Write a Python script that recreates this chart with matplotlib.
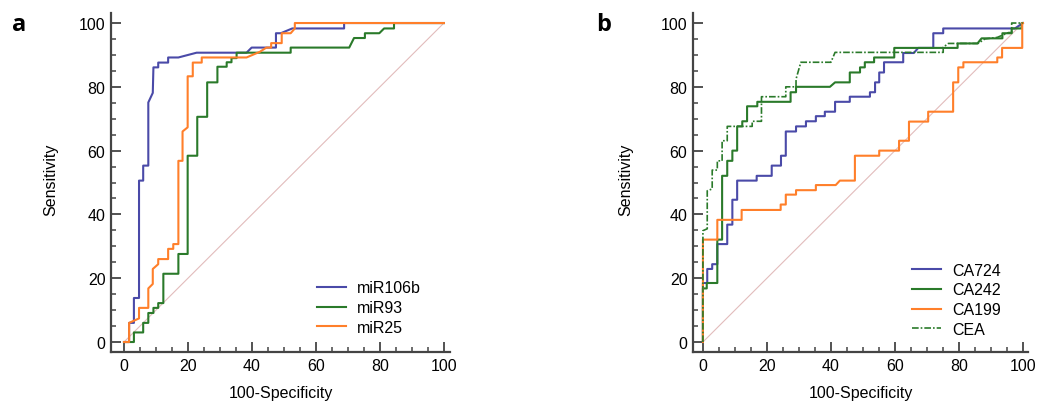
import numpy as np
import matplotlib
matplotlib.use("Agg")
import matplotlib.pyplot as plt
from matplotlib.ticker import MultipleLocator

plt.rcParams['font.family'] = ['Liberation Sans', 'DejaVu Sans']

# ---- panel a: miRNA ROC curves (100-Specificity, Sensitivity) ----
mir106b_x = [0, 1.6, 1.6, 3.1, 3.1, 4.7, 4.7, 6.0, 6.0, 7.6, 7.6, 9.0, 9.2, 10.7, 10.7, 13.8, 13.8,
             17.0, 22.7, 38.3, 39.9, 47.5, 47.5, 49.0, 52.6, 68.8, 68.8, 100]
mir106b_y = [0, 0, 6.0, 6.0, 13.8, 13.8, 50.6, 50.6, 55.3, 55.3, 75.1, 78.1, 86.1, 86.1, 87.6, 87.6, 89.2,
             89.2, 90.7, 90.7, 92.3, 92.3, 96.8, 96.8, 98.3, 98.3, 100, 100]

mir93_x = [0, 3.1, 3.1, 6.0, 6.0, 7.6, 7.6, 9.2, 9.2, 10.7, 10.7, 12.3, 12.3, 17.0, 17.0, 19.9, 19.9,
           22.9, 22.9, 26.0, 26.0, 29.2, 29.2, 32.1, 32.1, 33.6, 33.6, 35.2, 35.2, 52.1, 52.1, 70.4,
           71.9, 75.3, 75.3, 79.8, 81.3, 84.4, 84.4, 100]
mir93_y = [0, 0, 3.0, 3.0, 6.0, 6.0, 9.1, 9.1, 10.7, 10.7, 12.2, 12.2, 21.4, 21.4, 27.6, 27.6, 58.4,
           58.4, 70.6, 70.6, 81.4, 81.4, 86.3, 86.3, 87.7, 87.7, 89.0, 89.0, 90.7, 90.7, 92.3, 92.3,
           95.3, 95.3, 96.8, 96.8, 98.3, 98.3, 100, 100]

mir25_x = [0, 1.6, 1.6, 4.7, 4.7, 7.6, 7.6, 9.0, 9.0, 10.7, 10.7, 13.8, 13.8, 15.4, 15.4, 17.0, 17.0,
           18.3, 18.3, 19.9, 19.9, 21.5, 21.5, 24.3, 24.3, 38.3, 42.5, 44.5, 46.0, 46.0, 49.3, 49.3,
           52.1, 53.4, 53.4, 100]
mir25_y = [0, 0, 6.0, 7.4, 10.7, 10.7, 16.8, 18.2, 22.9, 24.4, 26.0, 26.0, 29.2, 29.2, 30.7, 30.7, 56.8,
           56.8, 66.0, 67.3, 83.3, 83.3, 87.6, 87.6, 89.2, 89.2, 91.0, 92.3, 92.3, 93.7, 93.7, 96.8,
           96.8, 98.3, 100, 100]

# ---- panel b: tumour marker ROC curves ----
ca724_x = [0, 0, 1.35, 1.35, 2.9, 2.9, 4.5, 4.5, 7.6, 7.6, 9.2, 9.2, 10.7, 10.7, 16.8, 16.8, 21.5, 21.5,
           24.4, 24.4, 25.9, 25.9, 29.1, 29.1, 32.2, 32.2, 35.3, 35.3, 38.1, 38.1, 41.3, 41.3, 45.9,
           45.9, 52.2, 52.2, 53.8, 53.8, 55.1, 55.1, 56.6, 56.6, 62.6, 62.6, 65.9, 67.3, 72.0, 72.0,
           75.1, 75.1, 97.5, 100]
ca724_y = [0, 18.5, 18.5, 22.9, 22.9, 24.4, 24.4, 30.7, 30.7, 36.8, 36.8, 44.6, 44.6, 50.6, 50.6, 52.1,
           52.1, 55.3, 55.3, 58.4, 58.4, 66.0, 66.0, 67.6, 67.6, 69.2, 69.2, 70.8, 70.8, 72.2, 72.2,
           75.3, 75.3, 76.9, 76.9, 78.3, 78.3, 81.4, 81.4, 84.5, 84.5, 87.7, 87.7, 90.6, 90.6, 92.2,
           92.2, 96.8, 96.8, 98.3, 98.3, 100]

ca242_x = [0, 0, 1.2, 1.2, 4.5, 4.5, 6.0, 6.0, 7.6, 7.6, 9.2, 9.2, 10.7, 10.7, 12.3, 12.3, 13.8, 13.8,
           17.0, 17.0, 27.4, 27.4, 29.1, 29.1, 39.7, 41.3, 45.9, 45.9, 49.1, 49.1, 50.6, 50.6, 53.5,
           53.5, 59.8, 59.8, 79.6, 79.6, 85.8, 87.1, 93.6, 93.6, 96.5, 96.5, 99.6, 99.6, 100]
ca242_y = [0, 16.8, 16.8, 18.5, 18.5, 32.1, 32.1, 52.1, 52.1, 56.8, 56.8, 60.0, 60.0, 67.6, 67.6, 69.2,
           69.2, 73.9, 73.9, 75.3, 75.3, 78.3, 78.3, 80.0, 80.0, 81.4, 81.4, 84.5, 84.5, 86.1, 86.1,
           87.7, 87.7, 89.2, 89.2, 92.2, 92.2, 93.6, 93.6, 95.2, 95.2, 96.8, 96.8, 98.3, 98.3, 100, 100]

ca199_x = [0, 0, 4.5, 4.5, 12.1, 12.1, 24.3, 24.3, 25.9, 25.9, 29.1, 29.1, 35.3, 35.3, 41.5, 42.8, 47.5,
           47.5, 55.1, 55.1, 61.3, 61.3, 64.4, 64.4, 70.4, 70.4, 78.2, 78.2, 79.8, 79.8, 81.4, 81.4,
           92.0, 92.0, 93.5, 93.5, 99.8, 99.8, 100]
ca199_y = [0, 32.1, 32.1, 38.3, 38.3, 41.4, 41.4, 43.1, 43.1, 46.2, 46.2, 47.6, 47.6, 49.2, 49.2, 50.6,
           50.6, 58.4, 58.4, 60.0, 60.0, 63.1, 63.1, 69.1, 69.1, 72.2, 72.2, 81.4, 81.4, 86.1, 86.1,
           87.7, 87.7, 89.2, 89.2, 92.2, 92.2, 100, 100]

cea_x = [0, 0, 1.35, 1.35, 2.9, 2.9, 4.5, 4.5, 6.0, 6.0, 7.6, 7.6, 15.4, 15.4, 18.3, 18.3, 25.9, 25.9,
         29.1, 29.1, 30.6, 40.0, 41.3, 75.1, 75.1, 76.7, 86.0, 88.1, 92.0, 95.5, 96.5, 96.5, 100]
cea_y = [0, 34.9, 35.5, 47.4, 48.0, 53.9, 53.9, 56.8, 56.8, 63.1, 63.1, 67.6, 67.6, 69.2, 69.2, 76.9,
         76.9, 80.0, 80.0, 82.4, 87.7, 87.7, 90.8, 90.8, 92.4, 93.6, 93.6, 95.0, 95.5, 97.0, 97.0, 100, 100]

diag_x = [0, 100]
diag_y = [0, 100]

BLUE = '#4a4aa8'
GREEN = '#2a7a2a'
ORANGE = '#ff7f2a'
DIAG = '#e2bcbc'
AXIS = '#444444'


def style_axes(ax, xlim, ylim):
    ax.set_xlim(*xlim)
    ax.set_ylim(*ylim)
    for s in ['top', 'right']:
        ax.spines[s].set_visible(False)
    for s in ['left', 'bottom']:
        ax.spines[s].set_color(AXIS)
        ax.spines[s].set_linewidth(1.6)
    ax.xaxis.set_major_locator(MultipleLocator(20))
    ax.yaxis.set_major_locator(MultipleLocator(20))
    ax.xaxis.set_minor_locator(MultipleLocator(5))
    ax.yaxis.set_minor_locator(MultipleLocator(5))
    ax.tick_params(which='major', direction='in', length=7, width=1.3, color=AXIS,
                   labelsize=11.5, pad=4)
    ax.tick_params(which='minor', direction='in', length=3.6, width=1.1, color=AXIS)
    ax.set_xlabel('100-Specificity', fontsize=11.5)
    ax.set_ylabel('Sensitivity', fontsize=11.5)


fig = plt.figure(figsize=(10.48, 4.02), dpi=100)

# panel a
ax1 = fig.add_axes([111 / 1048, 49 / 402, 339 / 1048, 339.5 / 402])
ax1.plot(diag_x, diag_y, color=DIAG, lw=0.8)
ax1.plot(mir106b_x, mir106b_y, color=BLUE, lw=1.5, label='miR106b')
ax1.plot(mir93_x, mir93_y, color=GREEN, lw=1.5, label='miR93')
ax1.plot(mir25_x, mir25_y, color=ORANGE, lw=1.5, label='miR25')
style_axes(ax1, (-4.06, 101.9), (-3.13, 103.3))
ax1.xaxis.set_label_coords(0.5, -0.097)
ax1.yaxis.set_label_coords(-0.155, 0.51)
ax1.legend(loc='lower left', bbox_to_anchor=(0.608, 0.05), frameon=False, fontsize=11.5,
           borderpad=0, borderaxespad=0, handlelength=1.8, handletextpad=0.7, labelspacing=0.3)
fig.text(12 / 1048, 1 - 31 / 402, 'a', fontsize=17, fontweight='bold', family='Open Sans')

# panel b
ax2 = fig.add_axes([693 / 1048, 49 / 402, 335 / 1048, 339.5 / 402])
ax2.plot(diag_x, diag_y, color=DIAG, lw=0.8)
ax2.plot(ca724_x, ca724_y, color=BLUE, lw=1.5, label='CA724')
ax2.plot(ca242_x, ca242_y, color=GREEN, lw=1.5, label='CA242')
ax2.plot(ca199_x, ca199_y, color=ORANGE, lw=1.5, label='CA199')
ax2.plot(cea_x, cea_y, color=GREEN, lw=1.2, linestyle=(0, (4, 1.2, 1, 1.2)), label='CEA')
style_axes(ax2, (-3.1, 101.6), (-3.13, 103.3))
ax2.xaxis.set_label_coords(0.5, -0.097)
ax2.yaxis.set_label_coords(-0.178, 0.51)
ax2.legend(loc='lower left', bbox_to_anchor=(0.654, 0.044), frameon=False, fontsize=11.5,
           borderpad=0, borderaxespad=0, handlelength=1.8, handletextpad=0.7, labelspacing=0.3)
fig.text(596 / 1048, 1 - 31 / 402, 'b', fontsize=17, fontweight='bold', family='Open Sans')

fig.savefig('out.png', dpi=100)
